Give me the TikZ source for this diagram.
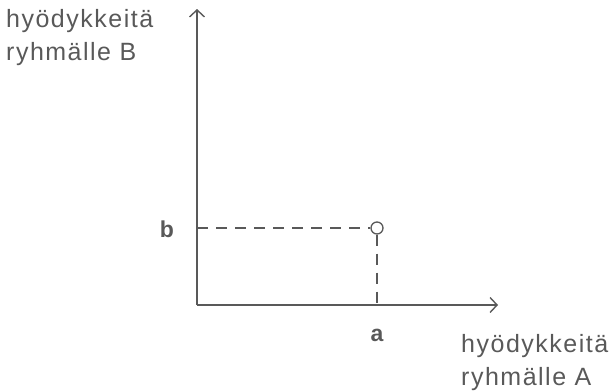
\documentclass[tikz,border=0pt]{standalone}
\usepackage{fontspec}
\setmainfont{Liberation Sans}[LetterSpace=6]
\usetikzlibrary{arrows.meta,positioning}
\definecolor{axisgray}{HTML}{595959}
\tikzset{
  axis/.style={line width=1.4pt, draw=axisgray, -{Straight Barb[length=7pt,width=15pt]}},
  guide/.style={line width=1.3pt, draw=axisgray, dash pattern=on 11pt off 8pt},
  lbl/.style={text=axisgray, font=\fontsize{25}{33}\selectfont, align=left, inner sep=0pt},
  val/.style={lbl, font=\fontsize{23}{32}\selectfont\bfseries}
}

\begin{document}
\begin{tikzpicture}[x=1pt,y=-1pt]
  \useasboundingbox (0,0) rectangle (611,391);
  % axes
  \coordinate (O) at (197,305);
  \coordinate (ytop) at (197,9);
  \coordinate (xend) at (498,305);
  \draw[axis] (O) -- (ytop);
  \draw[axis] (O) -- (xend);
  % point and its guides
  \node[circle, draw=axisgray, line width=1.3pt, minimum size=12pt, inner sep=0pt] (P) at (377,228) {};
  \coordinate (Pb) at (O |- P);
  \coordinate (Pa) at (P |- O);
  \draw[guide] (Pb) -- (P);
  \draw[guide] (P) -- (Pa);
  % values
  \node[val] (bval) at (167,229) {b};
  \node[val] (aval) at (377,335) {a};
  % axis names
  \node[lbl, anchor=north west] (ylab) at (6,9) {hyödykkeitä\\ryhmälle B};
  \node[lbl, anchor=north west] (xlab) at (461,334) {hyödykkeitä\\ryhmälle A};
\end{tikzpicture}
\end{document}
